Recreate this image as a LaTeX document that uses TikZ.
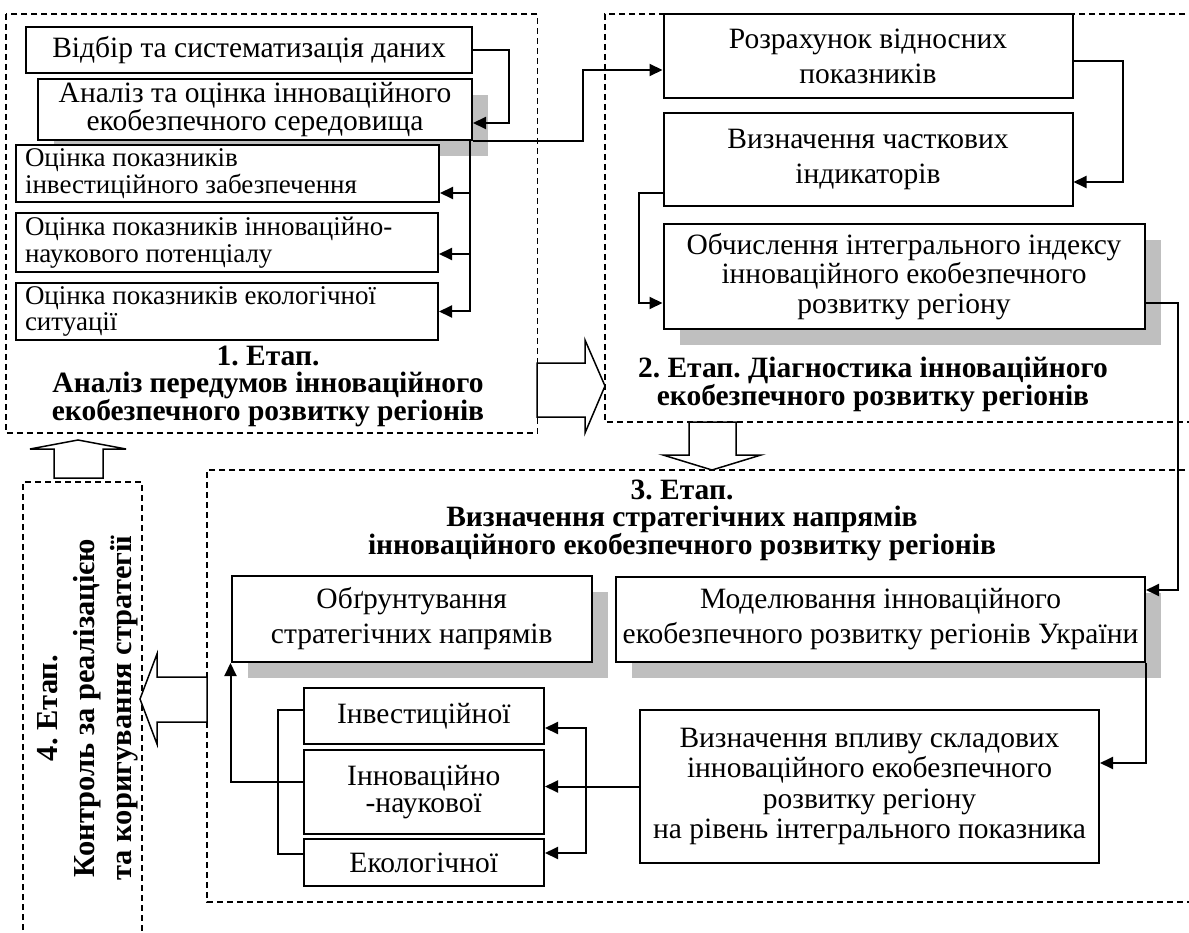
\documentclass[tikz,border=0pt]{standalone}
\usepackage{fontspec}
\setmainfont{Liberation Serif}
\usetikzlibrary{arrows.meta,shadows}
\frenchspacing

\begin{document}
\begin{tikzpicture}
	[x=1pt, y=-1pt, line width=2pt, >={Triangle[length=13pt,width=12pt]},
	box/.style = {draw, fill=white, inner sep=0pt, align=center, font=\fontsize{29.5}{#1}\selectfont},
	box/.default = 35,
	shbox/.style = {box=#1, drop shadow={shadow xshift=16pt, shadow yshift=-16pt, fill=black!25, opacity=1}},
	shbox/.default = 35,
	lbox/.style = {draw, fill=white, align=flush left, inner xsep=9pt, inner ysep=0pt, font=\fontsize{27}{26.5}\selectfont},
	title/.style = {align=center, font=\fontsize{29.5}{#1}\selectfont\bfseries},
	panel/.style = {line width=1.5pt, dash pattern=on 6pt off 4pt},
	bigarr/.style = {draw, fill=white, line width=1.5pt},
	bracket/.style = {line width=1.2pt}]
	\useasboundingbox (0,0) rectangle (1189,933);
	% dashed frames of the stages
	\draw[panel] (6,14) rectangle (537.7,433);
	\draw[panel] (1195,14) -- (605,14) -- (605,422) -- (1195,422);
	\draw[panel] (1195,470) -- (207,470) -- (207,902) -- (1195,902);
	\draw[panel] (23,940) -- (23,482) -- (142,482) -- (142,940);
	% hollow arrows between stages
	\draw[bigarr] (537,363) -- (585,363) -- (585,340) -- (605,386) -- (585,433) -- (585,417) -- (537,417) -- cycle;
	\draw[bigarr] (689,422) -- (689,455) -- (663,455) -- (712,470) -- (761,455) -- (736,455) -- (736,422) -- cycle;
	\draw[bigarr] (207,677) -- (157,677) -- (157,654) -- (140,699) -- (157,744) -- (157,722) -- (207,722) -- cycle;
	\draw[bigarr] (54,478) -- (54,449) -- (30,449) -- (78,440) -- (126,449) -- (103,449) -- (103,478) -- cycle;
	% 1. Етап
	\node[box=33, minimum width=446, minimum height=46] (vidbir) at (249,50) {Відбір та систематизація даних};
	\node[shbox=28, minimum width=434, minimum height=61] (analiz) at (255,109.5) {Аналіз та оцінка інноваційного\\екобезпечного середовища};
	\node[lbox, text width=405, minimum height=57] (ocinv) at (227.5,173.5) {Оцінка показників\\інвестиційного забезпечення};
	\node[lbox, text width=404, minimum height=59] (ocinn) at (227,242.5) {Оцінка показників інноваційно-\\наукового потенціалу};
	\node[lbox, text width=404, minimum height=57] (oceko) at (227,311.5) {Оцінка показників екологічної\\ситуації};
	\node[title=27.5] (t1) at (268,386) {1. Етап.\\Аналіз передумов інноваційного\\екобезпечного розвитку регіонів};
	% 2. Етап
	\node[box, minimum width=409, minimum height=84] (rozrah) at (868,56) {Розрахунок відносних\\показників};
	\node[box, minimum width=409, minimum height=93] (vyzn) at (868,159.5) {Визначення часткових\\індикаторів};
	\node[shbox=29.5, minimum width=481, minimum height=105] (obch) at (904,276.5) {Обчислення інтегрального індексу\\інноваційного екобезпечного\\розвитку регіону};
	\node[title=28] (t2) at (873,384) {2. Етап. Діагностика інноваційного\\екобезпечного розвитку регіонів};
	% 3. Етап
	\node[title=27.5] (t3) at (682,520) {3. Етап.\\Визначення стратегічних напрямів\\інноваційного екобезпечного розвитку регіонів};
	\node[shbox, minimum width=529, minimum height=85] (model) at (880.5,619.5) {Моделювання інноваційного\\екобезпечного розвитку регіонів України};
	\node[box=30.5, minimum width=459, minimum height=153] (vplyv) at (869.5,786.5) {Визначення впливу складових\\інноваційного екобезпечного\\розвитку регіону\\на рівень інтегрального показника};
	\node[shbox, minimum width=360.5, minimum height=86] (obgr) at (411.75,619) {Обґрунтування\\стратегічних напрямів};
	\node[box, minimum width=240.5, minimum height=56] (inv) at (423.75,716) {Інвестиційної};
	\node[box=27, minimum width=240.5, minimum height=84] (innov) at (423.75,792) {Інноваційно\\-наукової};
	\node[box, minimum width=240.5, minimum height=47] (eko) at (423.75,862.5) {Екологічної};
	% 4. Етап
	\node[title=37, font=\fontsize{30.5}{37}\selectfont\bfseries, rotate=90] (t4) at (88,708) {4. Етап.\\Контроль за реалізацією\\та коригування стратегії};
	% connectors
	\draw[->] (vidbir.east) -- ++(36,0) |- ([yshift=-13.5pt]analiz.east);
	\draw[->] (analiz.south east) -- ++(110,0) |- ([yshift=-14pt]rozrah.west);
	\draw[->] ([xshift=-3pt]analiz.south east) |- ([yshift=-19.5pt]ocinv.east);
	\draw[->] ([xshift=-3pt]analiz.south east) |- ([yshift=-11.5pt]ocinn.east);
	\draw[->] ([xshift=-3pt]analiz.south east) |- (oceko.east);
	\draw[->] ([yshift=-5pt]rozrah.east) -- ++(49,0) |- ([yshift=-22.5pt]vyzn.east);
	\draw[->] ([yshift=-33.5pt]vyzn.west) -- ++(-23.5,0) |- ([yshift=-26.5pt]obch.west);
	\draw[->] ([yshift=-26.5pt]obch.east) -- ++(32,0) |- ([yshift=29.5pt]model.east);
	\draw[->] (model.south east) |- ([yshift=23.5pt]vplyv.east);
	\draw[->] (vplyv.west) -- (vplyv.west -| innov.east);
	\draw[->] ([xshift=-53pt]vplyv.west) |- ([yshift=-12pt]inv.east);
	\draw[->] ([xshift=-53pt]vplyv.west) |- ([yshift=9.5pt]eko.east);
	\draw[->] ([yshift=10pt]innov.west) -| (obgr.south west);
	\draw[bracket] ([yshift=6pt]inv.west) -- ++(-24.5,0) |- ([yshift=8.5pt]eko.west);
\end{tikzpicture}
\end{document}
